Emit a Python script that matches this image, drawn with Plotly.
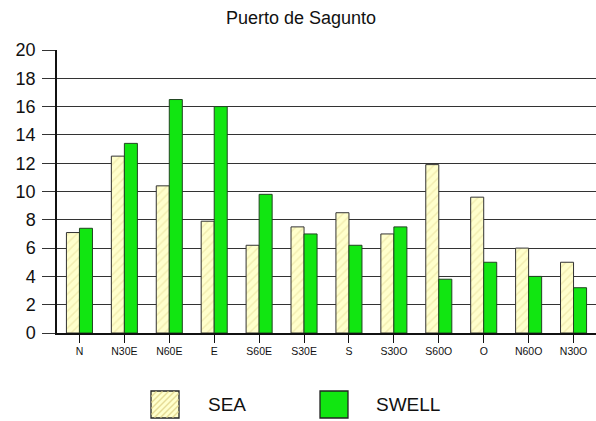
import plotly.graph_objects as go

categories = ["N", "N30E", "N60E", "E", "S60E", "S30E", "S", "S30O", "S60O", "O", "N60O", "N30O"]
sea = [7.1, 12.5, 10.4, 7.9, 6.2, 7.5, 8.5, 7.0, 11.9, 9.6, 6.0, 5.0]
swell = [7.4, 13.4, 16.5, 16.0, 9.8, 7.0, 6.2, 7.5, 3.8, 5.0, 4.0, 3.2]
series_names = ["SEA", "SWELL"]
y_ticks = list(range(0, 21, 2))

SEA_FILL = "#FFFFCC"
SEA_HATCH = "#E6DC96"
SWELL_FILL = "#11E611"

W, H = 596, 421
ML, MR, MT, MB = 57, 0, 50, 88
PW, PH = W - ML - MR, H - MT - MB


def px(x):
    return (x - ML) / PW


def py(y):
    return (H - MB - y) / PH


fig = go.Figure()
fig.add_trace(go.Bar(
    x=categories, y=sea, name=series_names[0], showlegend=False,
    marker=dict(color=SEA_FILL, line=dict(color="#333333", width=1),
                pattern=dict(shape="/", fgcolor=SEA_HATCH, size=6, solidity=0.25)),
))
fig.add_trace(go.Bar(
    x=categories, y=swell, name=series_names[1], showlegend=False,
    marker=dict(color=SWELL_FILL, line=dict(color="#224422", width=1)),
))

# custom legend (large swatches like the reference)
shapes = []
annotations = []
legend_items = [
    (series_names[0], 151, 206, SEA_FILL, True),
    (series_names[1], 320, 374, SWELL_FILL, False),
]
sw, top, bot = 28, 391, 418
for name, x0, tx, fill, hatch in legend_items:
    shapes.append(dict(type="rect", xref="paper", yref="paper",
                       x0=px(x0), x1=px(x0 + sw), y0=py(bot), y1=py(top),
                       fillcolor=fill, line=dict(color="#222222", width=1.3)))
    if hatch:
        h = bot - top
        for k in range(-h, sw, 6):
            # line from (x0+k, bot) to (x0+k+h, top), clipped to the square
            xa, ya = x0 + k, bot
            xb, yb = x0 + k + h, top
            if xa < x0:
                ya = bot - (x0 - xa)
                xa = x0
            if xb > x0 + sw:
                yb = top + (xb - (x0 + sw))
                xb = x0 + sw
            if xb - xa < 1:
                continue
            shapes.append(dict(type="line", xref="paper", yref="paper",
                               x0=px(xa + 0.5), y0=py(ya - 0.5), x1=px(xb - 0.5), y1=py(yb + 0.5),
                               line=dict(color=SEA_HATCH, width=1.5)))
    annotations.append(dict(text=name, xref="paper", yref="paper", x=px(tx), y=py((top + bot) / 2),
                            xanchor="left", yanchor="middle", showarrow=False,
                            font=dict(size=19, color="#111111")))

fig.update_layout(
    width=W, height=H,
    margin=dict(l=ML, r=MR, t=MT, b=MB, autoexpand=False),
    paper_bgcolor="white", plot_bgcolor="white",
    barmode="group", bargap=0.42, bargroupgap=0,
    font=dict(family="Liberation Sans, Arial, sans-serif", color="#111111"),
    title=dict(text="Puerto de Sagunto", x=0.505, xanchor="center", y=0.957, yanchor="middle",
               font=dict(size=18, color="#111111")),
    showlegend=False,
    shapes=shapes,
    annotations=annotations,
)
fig.update_yaxes(range=[0, 20], tickvals=y_ticks, showgrid=True, gridcolor="#333333", gridwidth=1,
                 ticks="outside", ticklen=13, tickcolor="#333333",
                 showline=True, linecolor="#111111", linewidth=1.5, automargin=False,
                 tickfont=dict(size=18), zeroline=False, ticklabelstandoff=3)
fig.update_xaxes(showline=True, linecolor="#111111", linewidth=1.5, ticks="outside", ticklen=8,
                 tickcolor="#111111", tickfont=dict(size=10.5), tickangle=0, automargin=False)

fig.write_html("out.html", config={"displayModeBar": False},
               post_script="document.body.style.margin='0';document.body.style.overflow='hidden';")
